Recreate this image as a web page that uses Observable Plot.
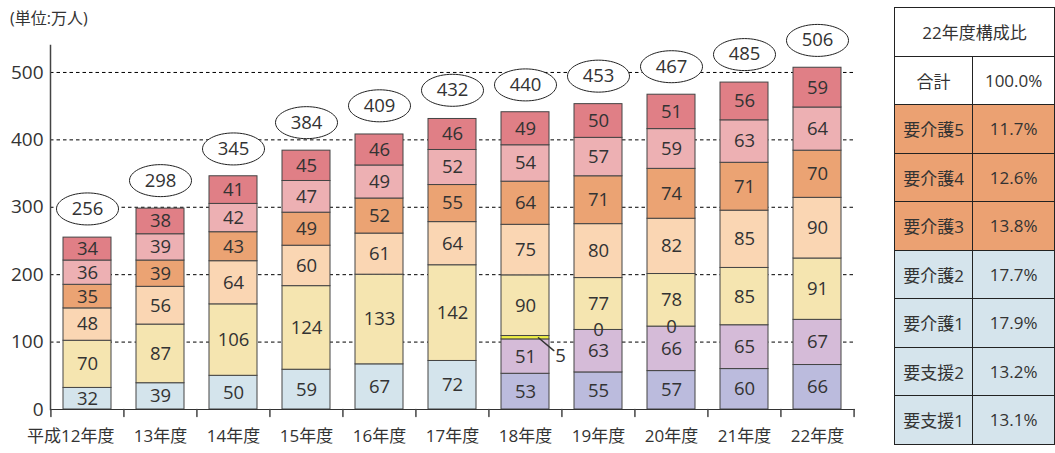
<!DOCTYPE html>
<html><head><meta charset="utf-8">
<script src="https://cdn.jsdelivr.net/npm/d3@7"></script>
<script src="https://cdn.jsdelivr.net/npm/@observablehq/plot@0.6"></script>
<style>
body{margin:0;background:#fff;font-family:"Open Sans","Noto Sans CJK JP",sans-serif;font-weight:400;overflow:hidden;width:1055px;height:453px;position:relative}
#unit{position:absolute;left:10px;top:5px;font-size:16px;color:#333}
#chart{position:absolute;left:0;top:0}
#share{position:absolute;left:894px;top:7px;border-collapse:collapse;font-size:17px;color:#333;border:1.5px solid #555}
#share td{border:1px solid #222;width:83px;height:47.5px;text-align:center;padding:0}
</style></head><body>
<div id="chart"></div><div id="unit">(単位:万人)</div>
<table id="share"></table>
<script>
const years = ["平成12年度","13年度","14年度","15年度","16年度","17年度","18年度","19年度","20年度","21年度","22年度"];
const categories = ["要支援1","要支援2","要支援","経過的要介護","要介護1","要介護2","要介護3","要介護4","要介護5"];
const yoshien1 = [null,null,null,null,null,null,53,55,57,60,66];
const yoshien2 = [null,null,null,null,null,null,51,63,66,65,67];
const yoshien  = [32,39,50,59,67,72,null,null,null,null,null];
const keika    = [null,null,null,null,null,null,5,0,0,null,null];
const kaigo1   = [70,87,106,124,133,142,90,77,78,85,91];
const kaigo2   = [48,56,64,60,61,64,75,80,82,85,90];
const kaigo3   = [35,39,43,49,52,55,64,71,74,71,70];
const kaigo4   = [36,39,42,47,49,52,54,57,59,63,64];
const kaigo5   = [34,38,41,45,46,46,49,50,51,56,59];
const totals   = [256,298,345,384,409,432,440,453,467,485,506];
const yTicks   = [0,100,200,300,400,500];
const shareTitle = "22年度構成比";
const shareLabels = ["合計","要介護5","要介護4","要介護3","要介護2","要介護1","要支援2","要支援1"];
const shareValues = ["100.0%","11.7%","12.6%","13.8%","17.7%","17.9%","13.2%","13.1%"];

const seriesList = [yoshien1, yoshien2, yoshien, keika, kaigo1, kaigo2, kaigo3, kaigo4, kaigo5];
const rows = [];
categories.forEach((cat, c) => seriesList[c].forEach((v, i) => { if (v != null) rows.push({year: years[i], cat, value: v}); }));
const totalRows = years.map((year, i) => ({year, total: totals[i]}));

const colors = ["#BBBBDD","#D5BBD8","#D4E4EC","#EEEE44","#F5E5B0","#FAD6B3","#EBA373","#EDB0B3","#E07F86"];
const isKeikaSmall = d => d.cat === "経過的要介護" && d.value > 0;

const ellipse = {draw(ctx) {
  const rx = 31, ry = 16, kx = rx * 0.5523, ky = ry * 0.5523;
  ctx.moveTo(rx, 0);
  ctx.bezierCurveTo(rx, ky, kx, ry, 0, ry);
  ctx.bezierCurveTo(-kx, ry, -rx, ky, -rx, 0);
  ctx.bezierCurveTo(-rx, -ky, -kx, -ry, 0, -ry);
  ctx.bezierCurveTo(kx, -ry, rx, -ky, rx, 0);
  ctx.closePath();
}};
const lineShape = {draw(ctx, l) { ctx.moveTo(0, 0); ctx.lineTo(0, -l); }};
const halfStep = 805 / 11 / 2;
const stackOpts = {x: "year", y: "value", z: "cat", order: categories};
const ff = '"Open Sans","Noto Sans CJK JP",sans-serif';

const chart = Plot.plot({
  width: 870, height: 453,
  marginLeft: 50, marginRight: 15, marginTop: 45, marginBottom: 44,
  style: {fontFamily: ff, fontSize: "18px", fontWeight: 400, color: "#333", background: "transparent"},
  x: {domain: years, paddingInner: 0.34, paddingOuter: 0.17, axis: null},
  y: {domain: [0, 540], axis: null},
  color: {domain: categories, range: colors},
  marks: [
    Plot.gridY(yTicks.filter(t => t > 0), {stroke: "#000", strokeOpacity: 1, strokeDasharray: "3.5,3"}),
    Plot.text(yTicks, {y: d => d, frameAnchor: "left", textAnchor: "end", dx: -7, fontSize: 19, fill: "#333"}),
    Plot.barY(rows, {...stackOpts, fill: "cat", stroke: "#444", strokeWidth: 1}),
    Plot.text(rows, Plot.stackY({...stackOpts, text: d => isKeikaSmall(d) ? null : String(d.value), fontSize: 18.5, fill: "#333"})),
    Plot.text(rows, Plot.stackY({...stackOpts, text: d => isKeikaSmall(d) ? String(d.value) : null, fontSize: 18.5, fill: "#333", dx: 35, dy: 18})),
    Plot.vector(rows, Plot.filter(isKeikaSmall, Plot.stackY({...stackOpts, length: 20, rotate: 130, anchor: "start", shape: lineShape, stroke: "#333", dx: 13}))),
    Plot.dot(totalRows, {x: "year", y: "total", symbol: ellipse, fill: "white", stroke: "#222", strokeWidth: 1, dy: -28}),
    Plot.text(totalRows, {x: "year", y: "total", text: d => String(d.total), dy: -28, fontSize: 18.5, fill: "#333"}),
    Plot.frame({anchor: "left", stroke: "#444", strokeWidth: 1.5}),
    Plot.ruleY([0], {stroke: "#333"}),
    Plot.vector(years, {x: d => d, y: () => 0, length: 7, rotate: 180, anchor: "start", shape: lineShape, stroke: "#444", strokeWidth: 1.5, dx: -halfStep}),
    Plot.vector(years.slice(-1), {x: d => d, y: () => 0, length: 7, rotate: 180, anchor: "start", shape: lineShape, stroke: "#444", strokeWidth: 1.5, dx: halfStep}),
    Plot.text(years.slice(1), {x: d => d, frameAnchor: "bottom", dy: 32, fontSize: 17, fill: "#333"}),
    Plot.text(years.slice(0, 1), {x: d => d, frameAnchor: "bottom", dy: 32, dx: 27, textAnchor: "end", fontSize: 17, fill: "#333"})
  ]
});
document.getElementById("chart").appendChild(chart);

const table = document.getElementById("share");
const head = table.insertRow();
const hc = head.insertCell(); hc.colSpan = 2; hc.textContent = shareTitle; hc.style.background = "#fff";
shareLabels.forEach((lab, i) => {
  const r = table.insertRow();
  const bg = i === 0 ? "#fff" : (i <= 3 ? "#EBA172" : "#D5E4EC");
  const a = r.insertCell(); a.textContent = lab; a.style.background = bg;
  const b = r.insertCell(); b.textContent = shareValues[i]; b.style.background = bg;
});
</script>
</body></html>
